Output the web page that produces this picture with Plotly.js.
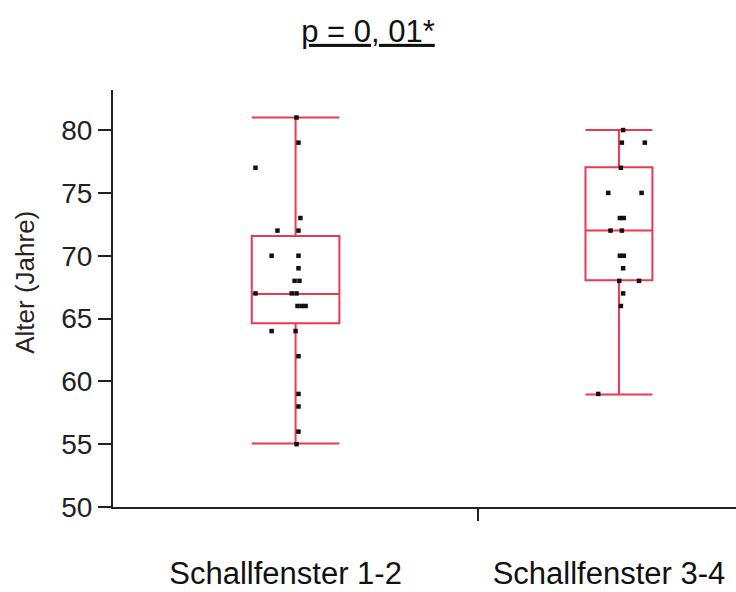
<!DOCTYPE html>
<html>
<head>
<meta charset="utf-8">
<script src="https://cdn.plot.ly/plotly-3.0.1.min.js"></script>
<style>html,body{margin:0;padding:0;background:#fff;}#chart{width:736px;height:592px;}</style>
</head>
<body>
<div id="chart"></div>
<script>
// Categories and positions on the (numeric) category axis
const categories = ["Schallfenster 1-2", "Schallfenster 3-4"];
const categoryPos = [1, 2];

// Box statistics
const lowerWhisker = [55.05, 58.95];
const q1 = [64.63, 68.05];
const medians = [66.95, 72.0];
const q3 = [71.56, 77.05];
const upperWhisker = [81.0, 80.0];

// Individual observations (Alter in Jahren) and their horizontal jitter (category units)
const values1 = [81, 79, 77, 73, 72, 72, 70, 70, 69, 68, 68, 67, 67, 67, 66, 66, 66, 64, 64, 62, 59, 58, 56, 55];
const jitter1 = [0.003, 0.009, -0.124, 0.015, -0.056, 0.009, -0.074, 0.009, 0.009, -0.003, 0.012, -0.124, -0.012, 0.003, 0.006, 0.019, 0.031, -0.074, 0, 0.009, 0.009, 0.009, 0.009, 0.003];
const values2 = [80, 79, 79, 77, 75, 75, 73, 73, 72, 72, 70, 70, 69, 68, 68, 67, 66, 59];
const jitter2 = [0.013, 0.009, 0.080, 0.006, -0.033, 0.070, 0.003, 0.015, -0.026, 0.009, 0.003, 0.015, 0.013, 0.001, 0.062, 0.013, 0.006, -0.064];

const yTicks = [50, 55, 60, 65, 70, 75, 80];
const titleText = "p = 0, 01*";
const yTitle = "Alter (Jahre)";

const boxColor = "#e83a50";
const boxWidths = [0.271, 0.207];

const traces = [];
categories.forEach((c, i) => {
  traces.push({
    type: "box",
    name: c,
    x: [categoryPos[i]],
    q1: [q1[i]],
    median: [medians[i]],
    q3: [q3[i]],
    lowerfence: [lowerWhisker[i]],
    upperfence: [upperWhisker[i]],
    boxpoints: false,
    width: boxWidths[i],
    whiskerwidth: 1,
    fillcolor: "rgba(255,255,255,0)",
    line: { color: boxColor, width: 2 },
    hoverinfo: "skip",
    showlegend: false
  });
});
const groups = [[values1, jitter1], [values2, jitter2]];
groups.forEach(([vals, jit], i) => {
  traces.push({
    type: "scatter",
    mode: "markers",
    x: vals.map((v, k) => categoryPos[i] + jit[k]),
    y: vals,
    marker: { symbol: "square", size: 4.5, color: "#111" },
    showlegend: false,
    hoverinfo: "y"
  });
});

const layout = {
  width: 736,
  height: 592,
  margin: { l: 113, r: 0, t: 90, b: 85 },
  paper_bgcolor: "#fff",
  plot_bgcolor: "#fff",
  font: { family: "Liberation Sans, Arial, sans-serif", color: "#111" },
  title: {
    text: titleText,
    font: { size: 31, color: "#111", lineposition: "under" },
    x: 0.5, xref: "container", xanchor: "center",
    y: 1 - 31 / 592, yref: "container", yanchor: "middle"
  },
  xaxis: {
    range: [0.4354, 2.362],
    tickmode: "array",
    tickvals: categoryPos,
    ticktext: categories,
    ticks: "",
    ticklabelstandoff: 38,
    ticklabelshift: -10,
    tickfont: { size: 31, color: "#111" },
    showline: true, linecolor: "#222", linewidth: 2,
    showgrid: false, zeroline: false,
    minor: { tickmode: "array", tickvals: [1.563], ticks: "outside", ticklen: 12, tickwidth: 2, tickcolor: "#222", showgrid: false },
    fixedrange: true
  },
  yaxis: {
    range: [50, 83.19],
    tickmode: "array",
    tickvals: yTicks,
    ticks: "outside", ticklen: 13, tickwidth: 2, tickcolor: "#222",
    tickfont: { size: 28, color: "#222" },
    showline: true, linecolor: "#222", linewidth: 2,
    showgrid: false, zeroline: false,
    fixedrange: true
  },
  annotations: [{
    text: yTitle,
    textangle: -90,
    xref: "paper", yref: "paper",
    x: -0.1413, y: 0.54,
    xanchor: "center", yanchor: "middle",
    showarrow: false,
    font: { size: 26, color: "#2a2222" }
  }]
};

Plotly.newPlot("chart", traces, layout, { displayModeBar: false, staticPlot: true });
</script>
</body>
</html>
